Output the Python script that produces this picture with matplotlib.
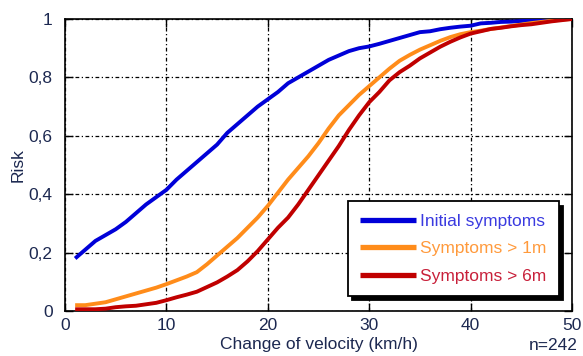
import matplotlib
matplotlib.use("Agg")
import matplotlib.pyplot as plt
import numpy as np

plt.rcParams['font.family'] = ['Liberation Sans', 'DejaVu Sans']

velocity = list(range(1, 51))

initial = [0.18, 0.21, 0.24, 0.26, 0.28, 0.305, 0.335, 0.365, 0.39, 0.415,
           0.45, 0.48, 0.51, 0.54, 0.57, 0.61, 0.64, 0.67, 0.70, 0.725,
           0.75, 0.78, 0.80, 0.82, 0.84, 0.86, 0.875, 0.89, 0.90, 0.906,
           0.915, 0.925, 0.935, 0.945, 0.955, 0.958, 0.965, 0.97, 0.974, 0.977,
           0.985, 0.987, 0.99, 0.991, 0.993, 0.995, 0.997, 1.0, 1.0, 1.0]

over_1m = [0.02, 0.02, 0.025, 0.03, 0.04, 0.05, 0.06, 0.07, 0.08, 0.092,
           0.105, 0.118, 0.133, 0.16, 0.19, 0.22, 0.25, 0.285, 0.32, 0.36,
           0.405, 0.45, 0.49, 0.53, 0.575, 0.625, 0.67, 0.705, 0.74, 0.77,
           0.80, 0.83, 0.857, 0.877, 0.895, 0.91, 0.925, 0.938, 0.948, 0.955,
           0.96, 0.966, 0.971, 0.976, 0.981, 0.986, 0.99, 0.994, 0.998, 1.0]

over_6m = [0.006, 0.006, 0.006, 0.008, 0.013, 0.016, 0.018, 0.023, 0.028, 0.037,
           0.047, 0.056, 0.066, 0.082, 0.098, 0.118, 0.14, 0.17, 0.205, 0.245,
           0.285, 0.32, 0.365, 0.415, 0.465, 0.515, 0.565, 0.62, 0.67, 0.715,
           0.75, 0.79, 0.818, 0.84, 0.865, 0.885, 0.905, 0.922, 0.937, 0.95,
           0.958, 0.966, 0.97, 0.975, 0.979, 0.982, 0.987, 0.992, 0.996, 1.0]

series_labels = ["Initial symptoms", "Symptoms > 1m", "Symptoms > 6m"]
line_colors = ["#0000d8", "#ff8c1a", "#c00000"]
text_colors = ["#3a3ae0", "#ff9a3c", "#c8203a"]

x_ticks = [0, 10, 20, 30, 40, 50]
y_ticks = [0, 0.2, 0.4, 0.6, 0.8, 1.0]
y_tick_labels = ["0", "0,2", "0,4", "0,6", "0,8", "1"]

label_color = "#1c2850"

fig = plt.figure(figsize=(5.83, 3.56), dpi=100)
ax = fig.add_axes([65/583, 1-311/356, 507/583, 292/356])

for ys, lab, col in zip([initial, over_1m, over_6m], series_labels, line_colors):
    ax.plot(velocity, ys, color=col, lw=2.8, label=lab, solid_capstyle='butt', zorder=3)

ax.set_xlim(0, 50)
ax.set_ylim(0, 1)
ax.set_xticks(x_ticks)
ax.set_yticks(y_ticks)
ax.set_yticklabels(y_tick_labels)
ax.tick_params(direction='in', length=6, width=1.0, top=True, right=True,
               labelsize=12.5, labelcolor=label_color)
ax.tick_params(axis='x', pad=5)
ax.tick_params(axis='y', pad=9)
ax.grid(True, color='black', linestyle=(0, (3, 2, 1, 2)), linewidth=0.9)
for s in ax.spines.values():
    s.set_linewidth(1.2)

ax.set_ylabel("Risk", fontsize=12.5, color=label_color, labelpad=2)
ax.set_xlabel("Change of velocity (km/h)", fontsize=12.5, color=label_color, labelpad=3)
fig.text(578/583, 1-346/356, "n=242", ha='right', va='center', fontsize=12.5, color=label_color)

leg = ax.legend(loc='lower right', bbox_to_anchor=(0.974, 0.051), fontsize=12.5,
                handlelength=3.2, handletextpad=0.25, labelspacing=0.7,
                borderpad=0.72, borderaxespad=0, fancybox=False, framealpha=1,
                edgecolor='black', shadow={'color': 'black', 'alpha': 1, 'ox': 3, 'oy': -3})
leg.get_frame().set_linewidth(1.3)
for line in leg.get_lines():
    line.set_linewidth(3.8)
for txt, col in zip(leg.get_texts(), text_colors):
    txt.set_color(col)

fig.savefig("out.png", dpi=100)
